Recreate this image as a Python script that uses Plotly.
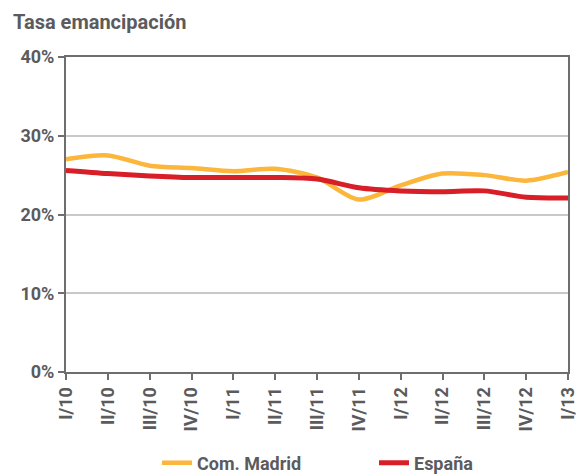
import plotly.graph_objects as go

categories = ["I/10", "II/10", "III/10", "IV/10", "I/11", "II/11", "III/11",
              "IV/11", "I/12", "II/12", "III/12", "IV/12", "I/13"]
madrid = [27.0, 27.5, 26.2, 25.9, 25.5, 25.8, 24.7, 21.9, 23.7, 25.2, 25.0, 24.3, 25.4]
espana = [25.6, 25.2, 24.9, 24.7, 24.7, 24.7, 24.5, 23.4, 23.0, 22.9, 23.0, 22.2, 22.1]
y_ticks = [0, 10, 20, 30, 40]
y_ticklabels = ["0%", "10%", "20%", "30%", "40%"]

GRAY = "#5b5b5d"
FONT = "Roboto"
TF = dict(size=18, family=FONT, color=GRAY, weight="bold")

fig = go.Figure()
fig.add_trace(go.Scatter(x=categories, y=madrid, name="Com. Madrid", mode="lines",
                         line=dict(color="#FBB63B", width=4.5, shape="spline", smoothing=0.8)))
fig.add_trace(go.Scatter(x=categories, y=espana, name="España", mode="lines",
                         line=dict(color="#D81E27", width=5, shape="spline", smoothing=0.8)))

fig.update_layout(
    width=577, height=475,
    margin=dict(l=66, r=9, t=57, b=103, autoexpand=False),
    paper_bgcolor="white", plot_bgcolor="white",
    font=TF,
    showlegend=True,
    legend=dict(orientation="h", x=(157 - 66) / 502, xanchor="left", y=-0.23, yanchor="top",
                font=TF, tracegroupgap=0, entrywidth=172, entrywidthmode="pixels"),
)
fig.add_annotation(text="Tasa emancipación", xref="paper", yref="paper",
                   x=-55/502, y=1 + 35/315, xanchor="left", yanchor="middle",
                   showarrow=False, font=dict(size=20, family=FONT, color=GRAY, weight="bold"))

fig.update_xaxes(type="category", range=[0, 12], showline=True, linecolor="#6e6e6e",
                 linewidth=2, mirror=True, ticks="outside", ticklen=6, tickwidth=2,
                 tickcolor="#6e6e6e", tickangle=-90, showgrid=False, automargin=False,
                 tickfont=TF)
fig.update_yaxes(range=[0, 40], tickvals=y_ticks, ticktext=y_ticklabels,
                 showline=True, linecolor="#6e6e6e", linewidth=2, mirror=True,
                 ticks="outside", ticklen=6, tickwidth=2, tickcolor="#6e6e6e",
                 showgrid=True, gridcolor="#c8c8c8", gridwidth=1.5, zeroline=False,
                 automargin=False, tickfont=TF)

fig.write_html("out.html", config={"displayModeBar": False},
               post_script="document.body.style.margin='0';")
